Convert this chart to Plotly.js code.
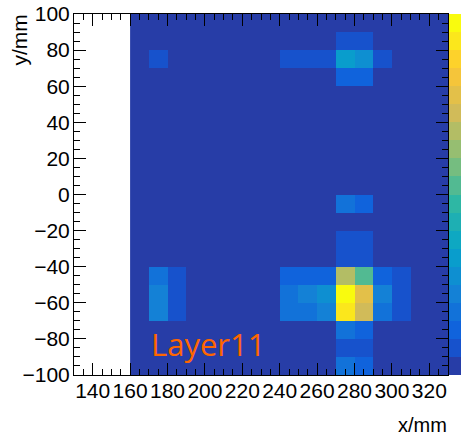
<!DOCTYPE html>
<html>
<head>
<meta charset="utf-8">
<script src="https://cdn.plot.ly/plotly-3.0.1.min.js"></script>
<style>html,body{margin:0;padding:0;background:#fff;}#chart{width:461px;height:438px;}</style>
</head>
<body>
<div id="chart"></div>
<script>
// bin centres (mm)
const xCenters = [165,175,185,195,205,215,225,235,245,255,265,275,285,295,305,315,325];
const yCenters = [-95,-85,-75,-65,-55,-45,-35,-25,-15,-5,5,15,25,35,45,55,65,75,85,95];
const xTicks = [140,160,180,200,220,240,260,280,300,320];
const yTicks = [-100,-80,-60,-40,-20,0,20,40,60,80,100];
const layerLabel = "Layer11";

// cell contents, rows from y=-95 up to y=95 (colour-level units, 0..20)
const rowM95 = [0,0,0,0,0,0,0,0,0,0,0,3.5,2.5,0,0,0,0];
const rowM85 = [0,0,0,0,0,0,0,0,0,0,0,1.5,1.5,0,0,0,0];
const rowM75 = [0,0,0,0,0,0,0,0,0,0,0,3.5,2.5,0,0,0,0];
const rowM65 = [0,4.5,1.5,0,0,0,0,0,3.5,3.5,4.5,18.5,14.5,3.5,1.5,0,0];
const rowM55 = [0,4.5,1.5,0,0,0,0,0,3.5,4.5,5.5,19.5,15.5,4.5,1.5,0,0];
const rowM45 = [0,3.5,1.5,0,0,0,0,0,2.5,2.5,2.5,13.5,10.5,2.5,1.5,0,0];
const rowM35 = [0,0,0,0,0,0,0,0,0,0,0,1.5,1.5,0,0,0,0];
const rowM25 = [0,0,0,0,0,0,0,0,0,0,0,1.5,1.5,0,0,0,0];
const rowM15 = [0,0,0,0,0,0,0,0,0,0,0,0,0,0,0,0,0];
const rowM05 = [0,0,0,0,0,0,0,0,0,0,0,3.5,2.5,0,0,0,0];
const rowP05 = [0,0,0,0,0,0,0,0,0,0,0,0,0,0,0,0,0];
const rowP15 = [0,0,0,0,0,0,0,0,0,0,0,0,0,0,0,0,0];
const rowP25 = [0,0,0,0,0,0,0,0,0,0,0,0,0,0,0,0,0];
const rowP35 = [0,0,0,0,0,0,0,0,0,0,0,0,0,0,0,0,0];
const rowP45 = [0,0,0,0,0,0,0,0,0,0,0,0,0,0,0,0,0];
const rowP55 = [0,0,0,0,0,0,0,0,0,0,0,0,0,0,0,0,0];
const rowP65 = [0,0,0,0,0,0,0,0,0,0,0,2.5,2.5,0,0,0,0];
const rowP75 = [0,1.5,0,0,0,0,0,0,1.5,1.5,1.5,6.5,5.5,1.5,0,0,0];
const rowP85 = [0,0,0,0,0,0,0,0,0,0,0,1.5,1.5,0,0,0,0];
const rowP95 = [0,0,0,0,0,0,0,0,0,0,0,0,0,0,0,0,0];

// ROOT kBird palette, 20 contour levels
const levelColors = ["#273da7","#1752cc","#1063dc","#1272d9","#1481d6","#0e8fd1","#099dcc","#0ea8c2","#1eafb3","#2eb7a4",
                     "#52ba92","#75bd80","#96be71","#b3bd65","#d1bb59","#e3c049","#f5c53a","#fdd22b","#fbe71c","#f9fb0e"];

const z = [rowM95,rowM85,rowM75,rowM65,rowM55,rowM45,rowM35,rowM25,rowM15,rowM05,
           rowP05,rowP15,rowP25,rowP35,rowP45,rowP55,rowP65,rowP75,rowP85,rowP95];

const n = levelColors.length;
const colorscale = [];
levelColors.forEach((c,k)=>{ colorscale.push([k/n,c]); colorscale.push([(k+1)/n,c]); });

const W = 461, H = 438;
const m = {l:74, r:13, t:14, b:63};
const plotW = W - m.l - m.r;
const plotH = H - m.t - m.b;

const tickFont = {family:"Liberation Sans, Arial, Helvetica, sans-serif", size:21, color:"#000"};

const trace = {
  type:"heatmap", x:xCenters, y:yCenters, z:z,
  zmin:0, zmax:n, colorscale:colorscale, zsmooth:false,
  hoverinfo:"skip",
  colorbar:{x:(449.5-m.l)/plotW, xanchor:"left", xpad:0, ypad:0, y:0.5, yanchor:"middle",
            len:1, lenmode:"fraction", thickness:30, outlinewidth:0, showticklabels:false, ticks:""}
};

const axisCommon = {
  showgrid:false, zeroline:false, showline:true, linecolor:"#000", linewidth:1, mirror:"ticks",
  ticks:"inside", ticklen:12, tickwidth:1, tickcolor:"#000", tickfont:tickFont,
  minor:{dtick:5, ticks:"inside", ticklen:6, tickwidth:1, tickcolor:"#000"},
  layer:"above traces"
};

const layout = {
  width:W, height:H, margin:Object.assign({autoexpand:false}, m),
  paper_bgcolor:"#fff", plot_bgcolor:"#fff", showlegend:false,
  xaxis:Object.assign({}, axisCommon, {range:[130,330], tickmode:"array", tickvals:xTicks, ticktext:xTicks.map(String), ticklabelstandoff:-3}),
  yaxis:Object.assign({}, axisCommon, {range:[-100,100], tickmode:"array", tickvals:yTicks, ticktext:yTicks.map(v=>v<0?"\u2212"+Math.abs(v):String(v)), ticklabelstandoff:-1}),
  annotations:[
    {text:"x/mm", xref:"paper", yref:"paper", x:1, xanchor:"right", y:(375-425)/plotH, yanchor:"middle", showarrow:false, borderpad:0,
     font:{family:"Liberation Sans, Arial, sans-serif", size:20, color:"#000"}},
    {text:"y/mm", xref:"paper", yref:"paper", x:-0.145, xanchor:"center", y:1.005, yanchor:"top", textangle:-90, showarrow:false,
     font:{family:"Liberation Sans, Arial, sans-serif", size:21, color:"#000"}},
    {text:layerLabel, xref:"x", yref:"y", x:170, xanchor:"left", y:-83, yanchor:"middle", showarrow:false,
     font:{family:"Open Sans, sans-serif", size:31, color:"#ff6600"}}
  ]
};

Plotly.newPlot("chart", [trace], layout, {staticPlot:true, displayModeBar:false});
</script>
</body>
</html>
